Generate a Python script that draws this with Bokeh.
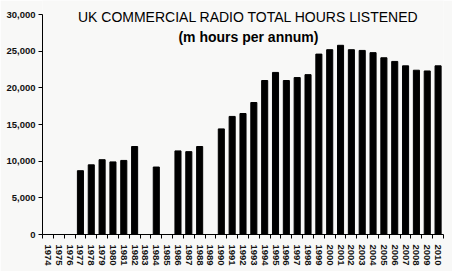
from bokeh.plotting import figure
from bokeh.models import ColumnDataSource, FixedTicker, Label, Range1d, NumeralTickFormatter
from bokeh.embed import file_html
from bokeh.resources import INLINE

years = list(range(1974, 2011))
hours = [0, 0, 0, 8700, 9500, 10200, 9900, 10100, 12000, 0, 9200, 0, 11400, 11300, 12000, 0,
         14400, 16100, 16500, 18000, 21000, 22100, 21000, 21400, 21800, 24600, 25200, 25800,
         25200, 25100, 24800, 24100, 23600, 23000, 22400, 22300, 23000]
title_text = "UK COMMERCIAL RADIO TOTAL HOURS LISTENED"
subtitle_text = "(m hours per annum)"
y_ticks = [0, 5000, 10000, 15000, 20000, 25000, 30000]

src = ColumnDataSource(dict(x=years, top=hours))

p = figure(width=452, height=271, output_backend="svg", toolbar_location=None,
           x_range=Range1d(1973.5, 2010.5), y_range=Range1d(0, 30000 * 234 / 220),
           min_border_left=42, min_border_right=9, min_border_top=0, min_border_bottom=37)
p.background_fill_color = "#f8f8f7"
p.border_fill_color = "#f8f8f7"
p.outline_line_color = None
p.grid.visible = False

p.vbar(x="x", top="top", width=0.56, source=src, color="black")

# y axis
p.yaxis.ticker = FixedTicker(ticks=y_ticks)
p.yaxis.bounds = (0, 30000)
p.yaxis.formatter = NumeralTickFormatter(format="0,0")
p.yaxis.major_tick_in = 0
p.yaxis.major_tick_out = 4
p.yaxis.minor_tick_out = 0
p.yaxis.minor_tick_in = 0
p.yaxis.major_label_text_font = "Liberation Sans"
p.yaxis.major_label_text_font_style = "bold"
p.yaxis.major_label_text_font_size = "9.5px"
p.yaxis.major_label_text_color = "#111111"
p.yaxis.major_label_standoff = 3
p.yaxis.axis_line_color = "black"

# x axis
p.xaxis.ticker = FixedTicker(ticks=years, minor_ticks=[y + 0.5 for y in [1973] + years])
p.xaxis.major_label_overrides = {y: str(y) for y in years}
p.xaxis.major_tick_in = 0
p.xaxis.major_tick_out = 0
p.xaxis.minor_tick_in = 0
p.xaxis.minor_tick_out = 4
p.xaxis.major_label_orientation = "vertical"
p.xaxis.major_label_text_font = "Liberation Sans"
p.xaxis.major_label_text_font_style = "bold"
p.xaxis.major_label_text_font_size = "9.5px"
p.xaxis.major_label_text_color = "#111111"
p.xaxis.major_label_standoff = 6
p.xaxis.axis_line_color = "black"

p.add_layout(Label(x=1992.5, y=29600, text=title_text, text_align="center",
                   text_baseline="middle", text_font="Liberation Sans",
                   text_font_size="14px", text_color="black"))
p.add_layout(Label(x=1992.5, y=26900, text=subtitle_text, text_align="center",
                   text_baseline="middle", text_font="Liberation Sans", text_font_style="bold",
                   text_font_size="14px", text_color="black"))

open("out.html", "w").write(file_html(p, INLINE))
